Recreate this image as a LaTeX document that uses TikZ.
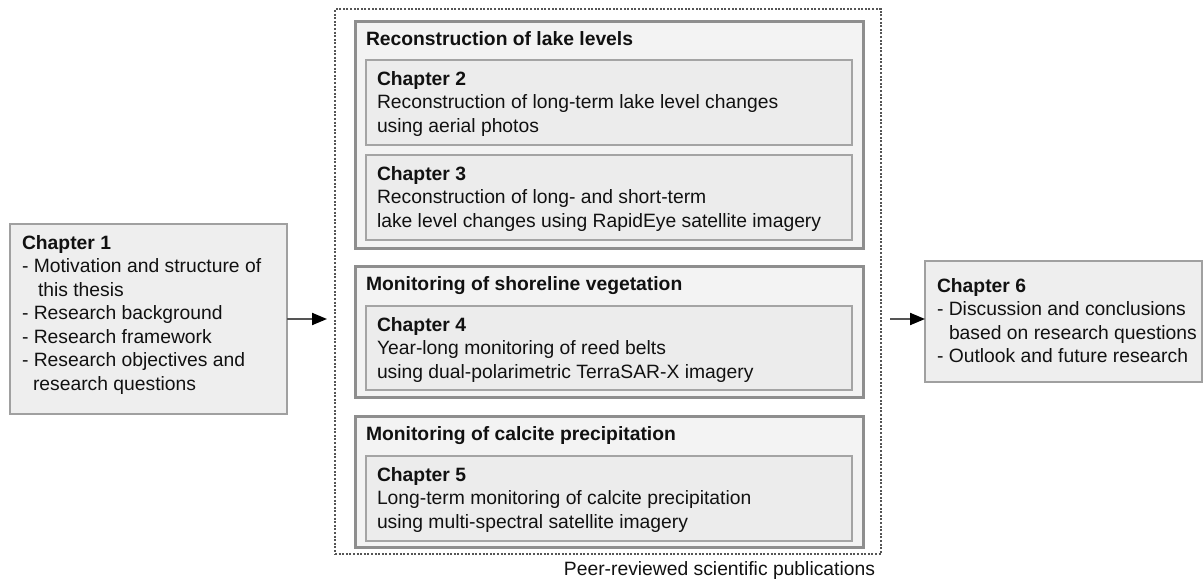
\documentclass[tikz,border=0pt]{standalone}
\usepackage{fontspec}
\setmainfont{Liberation Sans}
\usetikzlibrary{arrows.meta}
\definecolor{gfill}{HTML}{F3F3F3}
\definecolor{gborder}{HTML}{8E8E8E}
\definecolor{cfill}{HTML}{ECECEC}
\definecolor{cborder}{HTML}{A4A4A4}
\definecolor{sfill}{HTML}{EEEEEE}
\definecolor{sborder}{HTML}{A0A0A0}
\definecolor{dotcol}{HTML}{555555}
\definecolor{arrcol}{HTML}{555555}
\definecolor{txtcol}{HTML}{111111}
\begin{document}
\begin{tikzpicture}[x=1pt,y=-1pt,
  box/.style={draw, inner sep=0pt, outer sep=0pt, anchor=north west},
  gbox/.style={box, draw=gborder, line width=3pt, fill=gfill, minimum width=508pt},
  cbox/.style={box, draw=cborder, line width=2pt, fill=cfill, minimum width=486pt, minimum height=85pt},
  sbox/.style={box, draw=sborder, line width=1.5pt, fill=sfill, minimum width=277pt},
  dotbox/.style={box, draw=dotcol, line width=2.2pt, dash pattern=on 2pt off 1.6pt},
  txt/.style={anchor=base west, inner sep=0pt, outer sep=0pt, text=txtcol, font=\fontsize{19.3}{23.5}\selectfont},
  arr/.style={draw=arrcol, line width=2pt, -{Triangle[length=15pt,width=12pt,fill=black,color=black]}}]
\useasboundingbox (0,0) rectangle (1204,581);

% container
\node[dotbox, minimum width=546pt, minimum height=545pt] (pubs) at (335,9) {};
\node[txt, anchor=base east] (pubslabel) at (875,575) {Peer-reviewed scientific publications};

% group 1
\node[gbox, minimum height=227pt] (g1) at (355,21) {};
\node[txt] (g1t) at (366,45) {\textbf{Reconstruction of lake levels}};
\node[cbox] (c2) at (366,60) {};
\node[txt] (c2t) at (377,85) {\parbox[t]{470pt}{\textbf{Chapter 2}\\Reconstruction of long-term lake level changes\\using aerial photos}};
\node[cbox] (c3) at (366,155) {};
\node[txt] (c3t) at (377,180) {\parbox[t]{470pt}{\textbf{Chapter 3}\\Reconstruction of long- and short-term\\lake level changes using RapidEye satellite imagery}};

% group 2
\node[gbox, minimum height=131pt] (g2) at (355,266) {};
\node[txt] (g2t) at (366,290) {\textbf{Monitoring of shoreline vegetation}};
\node[cbox, minimum height=84pt] (c4) at (366,306) {};
\node[txt] (c4t) at (377,331) {\parbox[t]{470pt}{\textbf{Chapter 4}\\Year-long monitoring of reed belts\\using dual-polarimetric TerraSAR-X imagery}};

% group 3
\node[gbox, minimum height=131pt] (g3) at (355,416) {};
\node[txt] (g3t) at (366,440) {\textbf{Monitoring of calcite precipitation}};
\node[cbox] (c5) at (366,456) {};
\node[txt] (c5t) at (377,481) {\parbox[t]{470pt}{\textbf{Chapter 5}\\Long-term monitoring of calcite precipitation\\using multi-spectral satellite imagery}};

% chapter 1
\node[sbox, minimum height=190pt] (ch1) at (10,224) {};
\node[txt] (ch1t) at (22,249) {\parbox[t]{265pt}{\textbf{Chapter 1}\\- Motivation and structure of\\\hspace*{16pt}this thesis\\- Research background\\- Research framework\\- Research objectives and\\\hspace*{11pt}research questions}};

% chapter 6
\node[sbox, minimum height=121pt] (ch6) at (925,261) {};
\node[txt] (ch6t) at (937,292) {\parbox[t]{265pt}{\textbf{Chapter 6}\\- Discussion and conclusions\\\hspace*{12pt}based on research questions\\- Outlook and future research}};

% arrows
\draw[arr, shorten >=8pt] (ch1.east) -- (ch1.east -| pubs.west);
\draw[arr, shorten <=9pt] ([yshift=2.5pt]pubs.east |- ch6.west) -- ([yshift=2.5pt]ch6.west);
\end{tikzpicture}
\end{document}
